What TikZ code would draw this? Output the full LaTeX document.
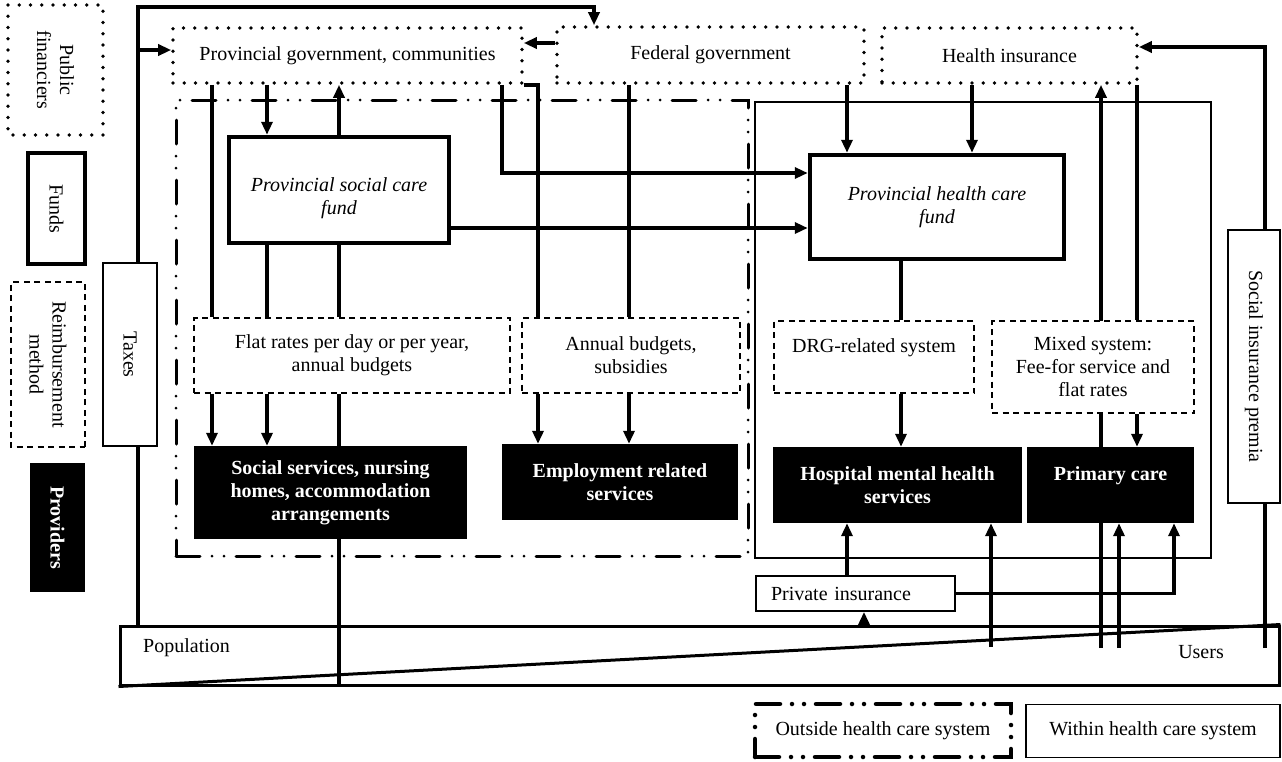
\documentclass[tikz,border=0pt]{standalone}
\usepackage{fontspec}
\setmainfont{Liberation Serif}
\usetikzlibrary{arrows.meta,backgrounds}
\begin{document}
\begin{tikzpicture}[x=1pt,y=-1pt,
  every node/.style={font=\fontsize{20}{23}\selectfont, inner sep=0pt, align=center},
  conn/.style={draw, line width=3.5pt},
  arr/.style={conn, -{Triangle[length=13pt,width=11pt]}},
  dotbox/.style={draw, fill=white, line width=3.6pt, line cap=round, dash pattern=on 0pt off 11.25pt},
  fundbox/.style={draw, fill=white, line width=4.5pt},
  dashbox/.style={draw, fill=white, line width=1.6pt, dash pattern=on 6pt off 4.5pt},
  provbox/.style={fill=black, text=white, font=\fontsize{20}{23}\selectfont\bfseries},
  thinbox/.style={draw, fill=white, line width=1.8pt},
  ddframe/.style={draw, line width=3pt, line cap=round, dash pattern=on 24pt off 12pt on 0pt off 12pt on 0pt off 12pt},
  ddlegend/.style={draw, line width=4.5pt, line cap=round, dash pattern=on 24pt off 12pt on 0pt off 12pt on 0pt off 12pt},
]
\useasboundingbox (0,0) rectangle (1282,761);

% ---------- legend (left) ----------
\node[dotbox, rotate=-90, minimum width=130pt, minimum height=95pt] (pf) at (55.5,70) {Public\\financiers};
\node[fundbox, rotate=-90, minimum width=111pt, minimum height=57pt] (lfunds) at (56.5,208.5) {Funds};
\node[dashbox, rotate=-90, minimum width=165pt, minimum height=74pt] (lreimb) at (48,364.5) {Reimbursement\\method};
\node[provbox, rotate=-90, minimum width=129pt, minimum height=55pt] (lprov) at (57.5,527.5) {Providers};

% ---------- side boxes ----------
\node[thinbox, rotate=-90, minimum width=183pt, minimum height=54pt] (taxes) at (130,354.5) {Taxes};
\node[thinbox, rotate=-90, minimum width=273pt, minimum height=52pt] (sip) at (1254,366.5) {Social insurance premia};

% ---------- public financiers ----------
\node[dotbox, minimum width=349pt, minimum height=55pt] (provgov) at (347.5,55.5) {Provincial government, communities};
\node[dotbox, minimum width=307pt, minimum height=56pt] (fedgov) at (710.5,55) {Federal government};
\node[dotbox, minimum width=255pt, minimum height=55pt] (healthins) at (1009.5,55.5) {Health insurance};

% ---------- funds ----------
\node[fundbox, minimum width=220pt, minimum height=106pt] (scfund) at (339,190) {};
\node[font=\fontsize{20}{23}\selectfont\itshape] (scfundtxt) at (339,198) {Provincial social care\\fund};
\node[fundbox, minimum width=254pt, minimum height=104pt, font=\fontsize{20}{23}\selectfont\itshape] (hcfund) at (937,207) {Provincial health care\\fund};

% ---------- reimbursement ----------
\node[dashbox, minimum width=316pt, minimum height=75pt] (flat) at (352,355.5) {Flat rates per day or per year,\\annual budgets};
\node[dashbox, minimum width=218pt, minimum height=75pt] (annual) at (631,355.5) {Annual budgets,\\subsidies};
\node[dashbox, minimum width=200pt, minimum height=72pt] (drg) at (874,357) {DRG-related system\\\mbox{}};
\node[dashbox, minimum width=202pt, minimum height=92pt] (mixed) at (1093,367) {Mixed system:\\Fee-for service and\\flat rates};

% ---------- providers ----------
\node[provbox, minimum width=273pt, minimum height=93pt] (socserv) at (330.5,492.5) {Social services, nursing\\homes, accommodation\\arrangements};
\node[provbox, minimum width=236pt, minimum height=76pt] (employ) at (620,482) {Employment related\\services};
\node[provbox, minimum width=249pt, minimum height=76pt] (hosp) at (897.5,485) {Hospital mental health\\services};
\node[provbox, minimum width=167pt, minimum height=76pt] (primary) at (1110.5,485) {Primary care\\\mbox{}};

% ---------- private insurance, population ----------
\node[thinbox, text width=169pt, inner xsep=15pt, minimum height=35pt, align=left] (privins) at (855.5,593.5) {Private insurance};
\node[draw, line width=3pt, minimum width=1159pt, minimum height=59pt] (pop) at (699.5,655.5) {};
\draw[line width=3pt] (pop.south west) -- (pop.north east);
\node[anchor=west] (poptxt) at (143,648) {Population};
\node[anchor=east] (userstxt) at (1224,652) {Users};

% ---------- bottom legend ----------
\node[ddlegend, minimum width=256pt, minimum height=53pt] (loutside) at (883,730.5) {Outside health care system};
\node[thinbox, minimum width=254pt, minimum height=53pt] (lwithin) at (1153,731) {Within health care system};

% ---------- free end points ----------
\coordinate (tj) at (138,50);
\coordinate (u1) at (1101,648);
\coordinate (u2) at (1119,648);
\coordinate (u3) at (991,647);
\coordinate (u4) at (1265,648);

% ---------- background: frames and lines passing behind boxes ----------
\begin{scope}[on background layer]
\node[ddframe, minimum width=572pt, minimum height=456pt] (outsideframe) at (462,328) {};
\node[draw, line width=2.2pt, minimum width=456pt, minimum height=456pt] (withinframe) at (983,330) {};
\draw[conn] (339,0 |- flat.south) -- (339,0 |- pop.south);
\draw[arr] (u1) -- (1101,0 |- healthins.south);
\end{scope}

% ---------- connectors ----------
\draw[arr] (138,0 |- taxes.west) -- (138,7) -| (594,0 |- fedgov.north);
\draw[arr] (tj) -- (tj -| provgov.west);
\draw[conn] (138,0 |- taxes.east) -- (138,0 |- pop.north);
\draw[arr] (fedgov.west |- 0,43) -- (provgov.east |- 0,43);

\draw[arr] (267,0 |- provgov.south) -- (267,0 |- scfund.north);
\draw[arr] (339,0 |- scfund.north) -- (339,0 |- provgov.south);
\draw[conn] (212,0 |- provgov.south) -- (212,0 |- flat.north);
\draw[arr] (212,0 |- flat.south) -- (212,0 |- socserv.north);
\draw[conn] (267,0 |- scfund.south) -- (267,0 |- flat.north);
\draw[arr] (267,0 |- flat.south) -- (267,0 |- socserv.north);
\draw[conn] (339,0 |- scfund.south) -- (339,0 |- flat.north);

\draw[arr] (502,0 |- provgov.south) -- (502,173) -- (hcfund.west |- 0,173);
\draw[conn] (provgov.south east) -- (538,0 |- provgov.south east) -- (538,0 |- annual.north);
\draw[arr] (538,0 |- annual.south) -- (538,0 |- employ.north);
\draw[conn] (629,0 |- fedgov.south) -- (629,0 |- annual.north);
\draw[arr] (629,0 |- annual.south) -- (629,0 |- employ.north);
\draw[arr] (scfund.east |- 0,228) -- (hcfund.west |- 0,228);

\draw[arr] (847,0 |- fedgov.south) -- (847,0 |- hcfund.north);
\draw[arr] (972,0 |- healthins.south) -- (972,0 |- hcfund.north);
\draw[conn] (901,0 |- hcfund.south) -- (901,0 |- drg.north);
\draw[arr] (901,0 |- drg.south) -- (901,0 |- hosp.north);

\draw[conn] (1137,0 |- healthins.south) -- (1137,0 |- mixed.north);
\draw[arr] (1137,0 |- mixed.south) -- (1137,0 |- primary.north);
\draw[arr] (u2) -- (1119,0 |- primary.south);
\draw[arr] (privins.east) -- (1174,0 |- privins.east) -- (1174,0 |- primary.south);
\draw[arr] (847,0 |- privins.north) -- (847,0 |- hosp.south);
\draw[arr] (u3) -- (991,0 |- hosp.south);
\draw[arr] (864,0 |- pop.north) -- (864,0 |- privins.south);

\draw[conn] (u4) -- (1265,0 |- sip.east);
\draw[arr] (1265,0 |- sip.west) -- (1265,47) -- (healthins.east |- 0,47);
\end{tikzpicture}
\end{document}
